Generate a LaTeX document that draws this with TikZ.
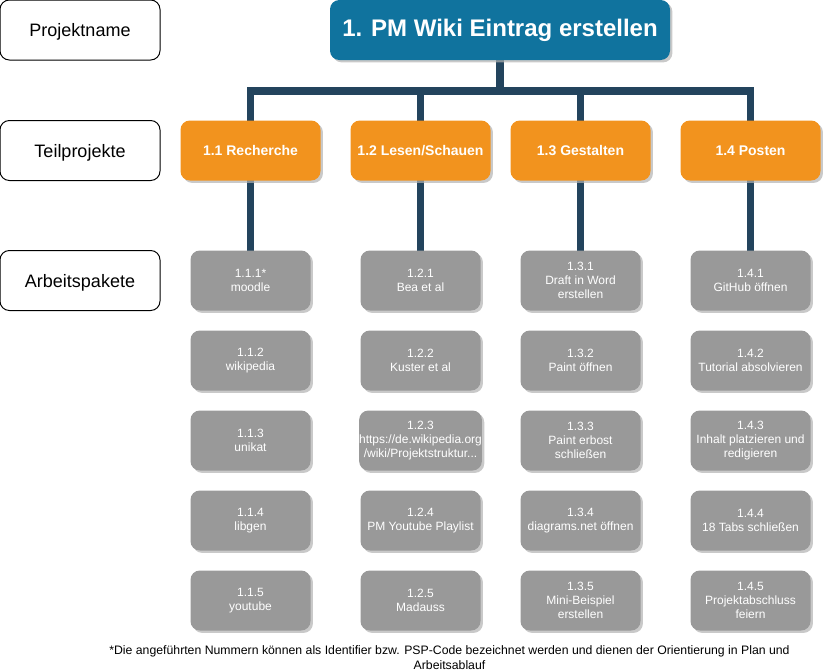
\documentclass[tikz,border=0pt]{standalone}
\usepackage{fontspec}
\setmainfont{Liberation Sans}
\usetikzlibrary{shadows}
\definecolor{topblue}{HTML}{10739E}
\definecolor{orangebox}{HTML}{F2931E}
\definecolor{graybox}{HTML}{999999}
\definecolor{connblue}{HTML}{23445D}
\tikzset{
  shad/.style={drop shadow={shadow xshift=1.8pt, shadow yshift=-1.8pt, fill=black!30, opacity=0.7}},
  oneline/.style={text height=1.05em, text depth=0.05em},
  labelbox/.style={draw=black, fill=white, rounded corners=7pt, minimum width=120pt, minimum height=45pt, inner sep=0pt, font=\fontsize{13.5}{16}\selectfont, line width=0.75pt, oneline},
  topbox/.style={fill=topblue, rounded corners=7pt, minimum width=255pt, minimum height=45pt, inner sep=0pt, text=white, font=\fontsize{18}{21}\selectfont\bfseries, shad, oneline},
  orbox/.style={fill=orangebox, rounded corners=7pt, minimum width=105pt, minimum height=45pt, inner sep=0pt, text=white, font=\fontsize{10.5}{12}\selectfont\bfseries, shad, text height=0.95em, text depth=0.15em},
  grbox/.style={fill=graybox, rounded corners=7pt, minimum width=90pt, minimum height=45pt, inner sep=0pt, text=white, align=center, font=\fontsize{9}{10.5}\selectfont, shad},
  conn/.style={draw=connblue, line width=5.4pt},
  note/.style={align=center, inner sep=0pt, font=\fontsize{9.2}{11.25}\selectfont}
}
\begin{document}
\begin{tikzpicture}[x=0.75pt, y=-0.75pt]
\useasboundingbox (0,0) rectangle (823,671);
% left labels
\node[labelbox] (lp) at (80,30) {Projektname};
\node[labelbox] (lt) at (80,150.5) {Teilprojekte};
\node[labelbox] (la) at (80,280.5) {Arbeitspakete};
% coordinates
\coordinate (bar) at (500,91);
\coordinate (c1) at (250.5,150.5);
\coordinate (c2) at (420.5,150.5);
\coordinate (c3) at (580.5,150.5);
\coordinate (c4) at (750.5,150.5);
\coordinate (g1) at (250.5,280.5);
\coordinate (g2) at (420.5,280.5);
\coordinate (g3) at (580.5,280.5);
\coordinate (g4) at (750.5,280.5);
\coordinate (tc) at (500,30);
% connectors first
\draw[conn] (tc) -- (bar);
\draw[conn] (c1) -- (c1 |- bar) -- (c4 |- bar) -- (c4);
\draw[conn] (c2 |- bar) -- (c2);
\draw[conn] (c3 |- bar) -- (c3);
\draw[conn] (c1) -- (g1);
\draw[conn] (c2) -- (g2);
\draw[conn] (c3) -- (g3);
\draw[conn] (c4) -- (g4);
% top
\node[topbox] (top) at (tc) {1. PM Wiki Eintrag erstellen};
% sub projects
\node[orbox] (t1) at (c1) {1.1 Recherche};
\node[orbox] (t2) at (c2) {1.2 Lesen/Schauen};
\node[orbox] (t3) at (c3) {1.3 Gestalten};
\node[orbox] (t4) at (c4) {1.4 Posten};
% work packages column 1
\node[grbox] (a11) at (g1) {1.1.1*\\moodle};
\node[grbox] (a12) at (250.5,360.5) {1.1.2\\wikipedia};
\node[grbox] (a13) at (250.5,440.5) {1.1.3\\unikat};
\node[grbox] (a14) at (250.5,520.5) {1.1.4\\libgen};
\node[grbox] (a15) at (250.5,600.5) {1.1.5\\youtube};
% column 2
\node[grbox] (a21) at (g2) {1.2.1\\Bea et al};
\node[grbox] (a22) at (420.5,360.5) {1.2.2\\Kuster et al};
\node[grbox] (a23) at (420.5,440.5) {1.2.3\\https://de.wikipedia.org\\/wiki/Projektstruktur...};
\node[grbox] (a24) at (420.5,520.5) {1.2.4\\PM Youtube Playlist};
\node[grbox] (a25) at (420.5,600.5) {1.2.5\\Madauss};
% column 3
\node[grbox] (a31) at (g3) {1.3.1\\Draft in Word\\erstellen};
\node[grbox] (a32) at (580.5,360.5) {1.3.2\\Paint öffnen};
\node[grbox] (a33) at (580.5,440.5) {1.3.3\\Paint erbost\\schließen};
\node[grbox] (a34) at (580.5,520.5) {1.3.4\\diagrams.net öffnen};
\node[grbox] (a35) at (580.5,600.5) {1.3.5\\Mini-Beispiel\\erstellen};
% column 4
\node[grbox] (a41) at (g4) {1.4.1\\GitHub öffnen};
\node[grbox] (a42) at (750.5,360.5) {1.4.2\\Tutorial absolvieren};
\node[grbox] (a43) at (750.5,440.5) {1.4.3\\Inhalt platzieren und\\redigieren};
\node[grbox] (a44) at (750.5,520.5) {1.4.4\\18 Tabs schließen};
\node[grbox] (a45) at (750.5,600.5) {1.4.5\\Projektabschluss\\feiern};
% footnote
\node[note] (fn) at (449.5,657.5) {*Die angeführten Nummern können als Identifier bzw. PSP-Code bezeichnet werden und dienen der Orientierung in Plan und\\Arbeitsablauf};
\end{tikzpicture}
\end{document}
